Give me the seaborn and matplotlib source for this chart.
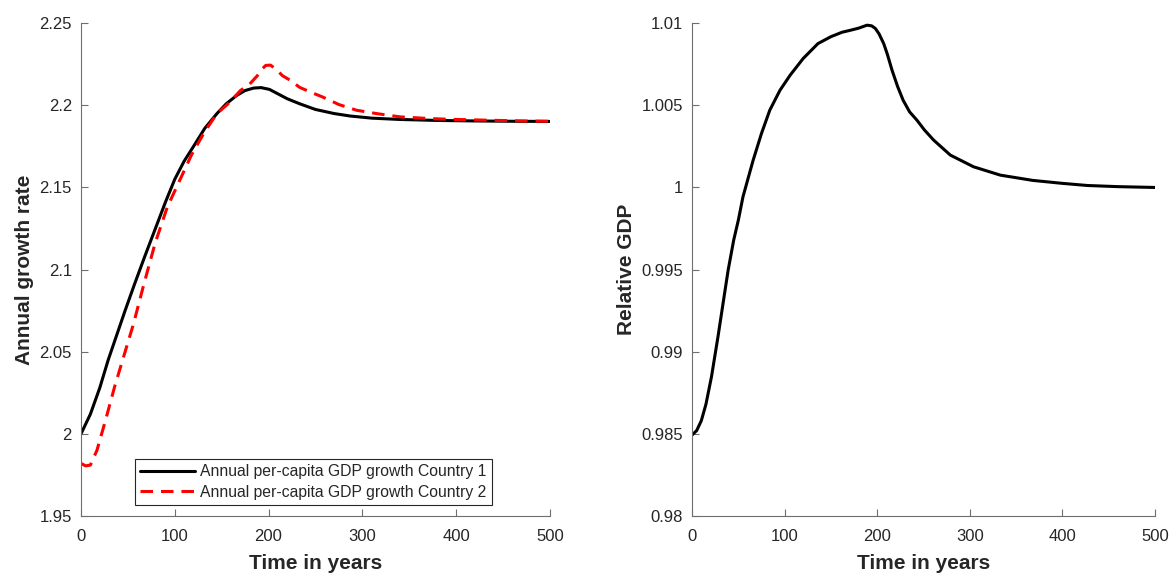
import numpy as np
import pandas as pd
import matplotlib
matplotlib.use("Agg")
import matplotlib.pyplot as plt
import seaborn as sns

# values
t_c1 = [0, 10, 20, 29, 38, 47, 57, 68, 80, 90, 100, 110, 120, 132, 145, 155, 166, 175,
        184, 192, 201, 210, 220, 233, 250, 270, 287, 310, 340, 380, 420, 460, 500]
g_c1 = [2.000, 2.012, 2.028, 2.045, 2.060, 2.075, 2.091, 2.108, 2.126, 2.141, 2.155,
        2.166, 2.175, 2.186, 2.195, 2.201, 2.206, 2.209, 2.2105, 2.2108, 2.2097, 2.207,
        2.204, 2.201, 2.1975, 2.195, 2.1935, 2.1922, 2.1914, 2.1908, 2.1905, 2.1903, 2.1902]

t_c2 = [0, 5, 10, 17, 26, 36, 46, 56, 67, 79, 92, 105, 118, 132, 145, 155, 162, 170, 180,
        188, 193, 197, 202, 208, 215, 224, 233, 245, 258, 275, 294, 315, 340, 370, 393,
        430, 470, 500]
g_c2 = [1.982, 1.9805, 1.981, 1.990, 2.008, 2.029, 2.048, 2.067, 2.091, 2.116, 2.138,
        2.154, 2.170, 2.184, 2.195, 2.200, 2.204, 2.209, 2.213, 2.218, 2.222, 2.2243,
        2.2245, 2.222, 2.218, 2.215, 2.211, 2.208, 2.205, 2.2005, 2.197, 2.195, 2.193,
        2.192, 2.1915, 2.191, 2.1905, 2.1903]

t_rel = [0, 5, 10, 15, 21, 28, 35, 39, 45, 50, 55, 61, 66, 75, 84, 95, 106, 120, 136,
         150, 162, 171, 180, 189, 194, 198, 202, 207, 211, 216, 222, 228, 235, 243, 251,
         261, 279, 304, 333, 368, 400, 427, 460, 500]
rel_gdp = [0.98493, 0.98520, 0.98580, 0.98680, 0.98848, 0.99091, 0.99350, 0.99497,
           0.99680, 0.99801, 0.99943, 1.00065, 1.00166, 1.00329, 1.00471, 1.00592,
           1.00684, 1.00785, 1.00876, 1.00918, 1.00945, 1.00957, 1.00970, 1.00988,
           1.00984, 1.00968, 1.00935, 1.00876, 1.00810, 1.00714, 1.00615, 1.00531,
           1.00460, 1.00409, 1.00350, 1.00288, 1.00197, 1.00126, 1.00075, 1.00043,
           1.00025, 1.00012, 1.00005, 1.00000]

lab_c1 = 'Annual per-capita GDP growth Country 1'
lab_c2 = 'Annual per-capita GDP growth Country 2'

sns.set_style("ticks")
plt.rcParams['font.family'] = ['Liberation Sans', 'DejaVu Sans']
plt.rcParams['xtick.direction'] = 'in'
plt.rcParams['ytick.direction'] = 'in'

cinza = '#262626'

fig = plt.figure(figsize=(11.69, 5.73), dpi=100)
ax1 = fig.add_axes([0.0693, 0.0995, 0.401, 0.860])
ax2 = fig.add_axes([0.592, 0.0995, 0.396, 0.860])

sns.lineplot(x=t_c1, y=g_c1, ax=ax1, color='black', linewidth=2.2, label=lab_c1)
sns.lineplot(x=t_c2, y=g_c2, ax=ax1, color='red', linewidth=2.2,
             linestyle=(0, (4.1, 2.6)), label=lab_c2)
sns.lineplot(x=t_rel, y=rel_gdp, ax=ax2, color='black', linewidth=2.2)

ax1.set_xlim(0, 500)
ax1.set_ylim(1.95, 2.25)
ax1.set_yticks([1.95, 2.0, 2.05, 2.1, 2.15, 2.2, 2.25])
ax1.set_yticklabels(['1.95', '2', '2.05', '2.1', '2.15', '2.2', '2.25'])
ax1.set_ylabel('Annual growth rate', fontsize=15, fontweight='bold', color=cinza)

ax2.set_xlim(0, 500)
ax2.set_ylim(0.98, 1.01)
ax2.set_yticks([0.98, 0.985, 0.99, 0.995, 1.0, 1.005, 1.01])
ax2.set_yticklabels(['0.98', '0.985', '0.99', '0.995', '1', '1.005', '1.01'])
ax2.set_ylabel('Relative GDP', fontsize=15, fontweight='bold', color=cinza)

for ax in (ax1, ax2):
    ax.set_xticks([0, 100, 200, 300, 400, 500])
    ax.set_xlabel('Time in years', fontsize=15, fontweight='bold', color=cinza, labelpad=7)
    sns.despine(ax=ax)
    for s in ('left', 'bottom'):
        ax.spines[s].set_color('#6e6e6e')
        ax.spines[s].set_linewidth(0.8)
    ax.tick_params(axis='both', labelsize=12, colors='#6e6e6e', labelcolor=cinza,
                   length=5, width=0.8)
    ax.tick_params(axis='x', pad=9.5)
    ax.tick_params(axis='y', pad=6.5)

leg = ax1.legend(loc='lower left', bbox_to_anchor=(0.115, 0.022), borderaxespad=0,
                 fontsize=11.3, handlelength=3.5, handletextpad=0.3, labelspacing=0.35,
                 borderpad=0.35, fancybox=False, framealpha=1, edgecolor='#262626')
leg.get_frame().set_linewidth(0.8)
for txt in leg.get_texts():
    txt.set_color(cinza)

fig.savefig('out.png', dpi=100)
